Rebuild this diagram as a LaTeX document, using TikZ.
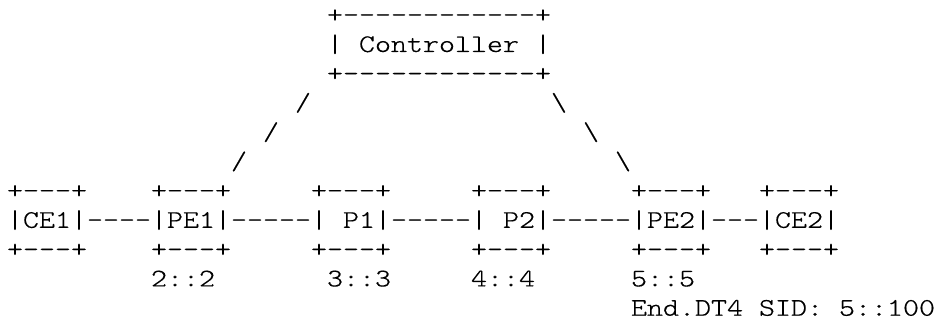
\documentclass[tikz,border=0pt]{standalone}
\usepackage{fontspec}
\setmonofont[FakeStretch=1.203, FakeBold=0.4]{lmmonolt10-regular.otf}
\begin{document}
\begin{tikzpicture}[x=0.75pt,y=-0.75pt,
  txt/.style={inner sep=0pt, outer sep=0pt, anchor=base west,
    font=\fontsize{19}{24}\selectfont\ttfamily, text=black}]
\useasboundingbox (0,0) rectangle (937,320);
% Controller box (col 20..33, rows 0..2)
\node[txt] (ctop) at (7+16*20, 22.7) {+------------+};
\node[txt] (cleft) at (7+16*20, 52) {|};
\node[txt] (ctrl) at (7+16*22, 52) {Controller};
\node[txt] (cright) at (7+16*33, 52) {|};
\node[txt] (cbot) at (7+16*20, 81.3) {+------------+};
% links to the controller
\node[txt] (sa) at (7+16*18, 110.6) {/};
\node[txt] (sb) at (7+16*16, 139.9) {/};
\node[txt] (sc) at (7+16*14, 169.2) {/};
\node[txt] (ba) at (7+16*34, 110.6) {\textbackslash};
\node[txt] (bb) at (7+16*36, 139.9) {\textbackslash};
\node[txt] (bc) at (7+16*38, 169.2) {\textbackslash};
% box borders (rows 6 and 8)
\foreach \nm/\c in {ce1/0, pe1/9, p1/19, p2/29, pe2/39, ce2/47}{
  \node[txt] (\nm top) at (7+16*\c, 198.5) {+---+};
  \node[txt] (\nm bot) at (7+16*\c, 257.1) {+---+};
}
% middle row (row 7)
\node[txt] (ce1) at (7+16*0, 227.8) {|CE1|};
\node[txt] (l1) at (7+16*5, 227.8) {----};
\node[txt] (pe1) at (7+16*9, 227.8) {|PE1|};
\node[txt] (l2) at (7+16*14, 227.8) {-----};
\node[txt] (p1l) at (7+16*19, 227.8) {|};
\node[txt] (p1) at (7+16*21, 227.8) {P1|};
\node[txt] (l3) at (7+16*24, 227.8) {-----};
\node[txt] (p2l) at (7+16*29, 227.8) {|};
\node[txt] (p2) at (7+16*31, 227.8) {P2|};
\node[txt] (l4) at (7+16*34, 227.8) {-----};
\node[txt] (pe2) at (7+16*39, 227.8) {|PE2|};
\node[txt] (l5) at (7+16*44, 227.8) {---};
\node[txt] (ce2) at (7+16*47, 227.8) {|CE2|};
% labels
\node[txt] (lab2) at (7+16*9, 286.4) {2::2};
\node[txt] (lab3) at (7+16*20, 286.4) {3::3};
\node[txt] (lab4) at (7+16*29, 286.4) {4::4};
\node[txt] (lab5) at (7+16*39, 286.4) {5::5};
\node[txt] (end) at (7+16*39, 315.7) {End.DT4};
\node[txt] (sid) at (7+16*47, 315.7) {SID:};
\node[txt] (sidv) at (7+16*52, 315.7) {5::100};
\end{tikzpicture}
\end{document}
